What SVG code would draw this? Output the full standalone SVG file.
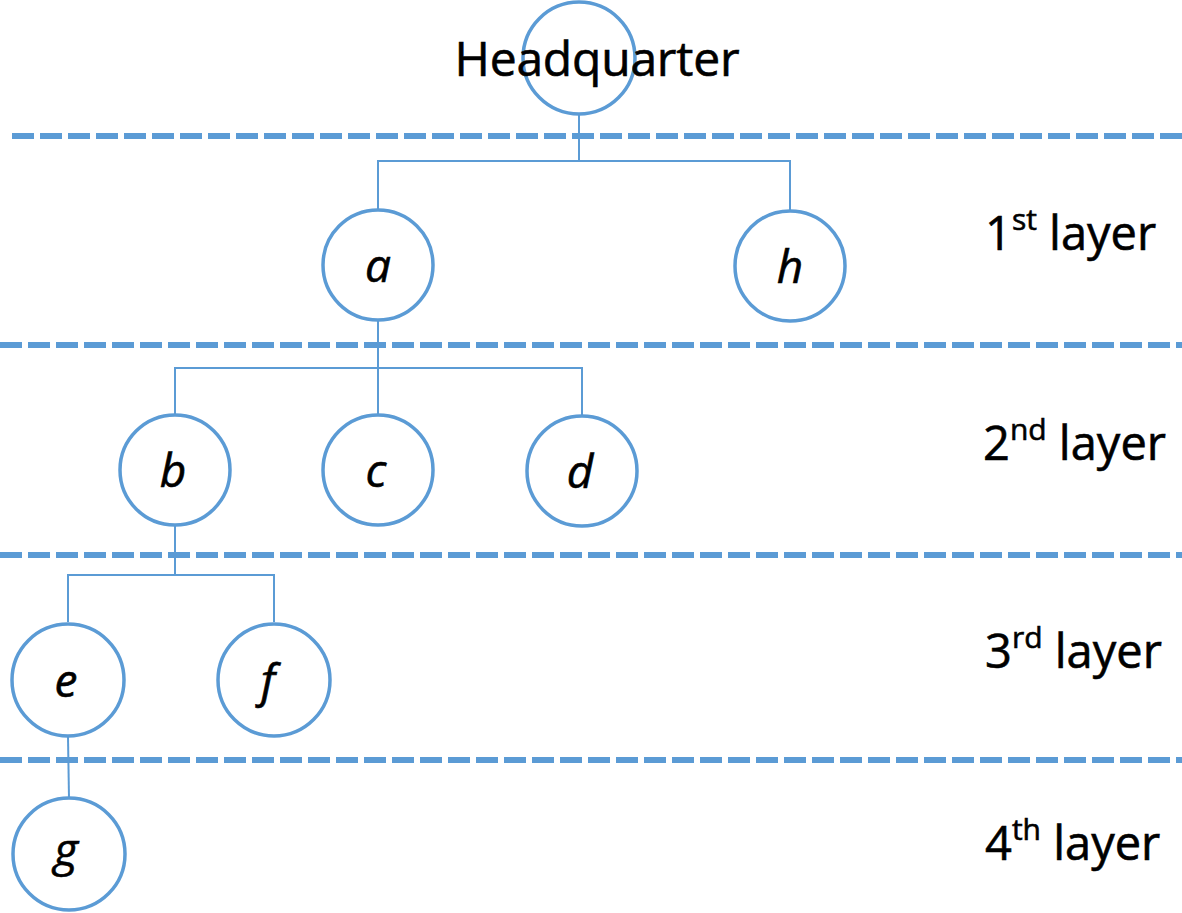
<svg xmlns="http://www.w3.org/2000/svg" width="1182" height="913" viewBox="0 0 1182 913">
<style>
.sep{stroke:#5B9BD5;stroke-width:6;stroke-dasharray:22 6;fill:none}
.conn{stroke:#5B9BD5;stroke-width:2;fill:none}
.node circle{fill:#fff;stroke:#5B9BD5;stroke-width:3.5}
.lbl{font-family:"Open Sans","Liberation Sans",sans-serif;font-style:italic;font-size:46px;fill:#000;text-anchor:middle;stroke:#000;stroke-width:0.6}
.layer{font-family:"Open Sans","Liberation Sans",sans-serif;font-size:47px;fill:#000;stroke:#000;stroke-width:0.6}
.sup{font-size:30px}
</style>
<rect width="1182" height="913" fill="#fff"/>
<g id="separators">
<line class="sep" x1="12" y1="136" x2="1182" y2="136"/>
<line class="sep" x1="0" y1="345" x2="1182" y2="345"/>
<line class="sep" x1="0" y1="555" x2="1182" y2="555"/>
<line class="sep" x1="0" y1="760" x2="1182" y2="760"/>
</g>
<g id="connectors">
<polyline class="conn" points="579,115 579,161"/>
<polyline class="conn" points="378,210 378,161 790,161 790,210"/>
<polyline class="conn" points="378,320 378,415"/>
<polyline class="conn" points="175,415 175,368 582,368 582,415"/>
<polyline class="conn" points="175,525 175,575"/>
<polyline class="conn" points="68,622 68,575 274,575 274,622"/>
<polyline class="conn" points="68,737 69,798"/>
</g>
<g id="node-hq" class="node"><circle cx="579" cy="58" r="56"/><text x="597" y="76" class="layer" style="text-anchor:middle;font-size:48px" textLength="285">Headquarter</text></g>
<g id="node-a" class="node"><circle cx="378" cy="265" r="55"/><text x="378" y="282" class="lbl">a</text></g>
<g id="node-h" class="node"><circle cx="790" cy="266" r="55"/><text x="790" y="283" class="lbl">h</text></g>
<g id="node-b" class="node"><circle cx="175" cy="470" r="55"/><text x="173" y="487" class="lbl">b</text></g>
<g id="node-c" class="node"><circle cx="378" cy="470" r="55"/><text x="376" y="487" class="lbl">c</text></g>
<g id="node-d" class="node"><circle cx="582" cy="471" r="55"/><text x="580" y="488" class="lbl">d</text></g>
<g id="node-e" class="node"><circle cx="68" cy="680" r="56"/><text x="66" y="697" class="lbl">e</text></g>
<g id="node-f" class="node"><circle cx="274" cy="680" r="56"/><text x="268" y="697" class="lbl">f</text></g>
<g id="node-g" class="node"><circle cx="69" cy="854" r="56"/><text x="66" y="866" class="lbl">g</text></g>
<g id="layer-labels">
<text class="layer" x="985" y="250">1<tspan class="sup" dy="-20">st</tspan><tspan dy="20"> layer</tspan></text>
<text class="layer" x="983" y="460">2<tspan class="sup" dy="-20">nd</tspan><tspan dy="20"> layer</tspan></text>
<text class="layer" x="985" y="668">3<tspan class="sup" dy="-20">rd</tspan><tspan dy="20"> layer</tspan></text>
<text class="layer" x="985" y="860">4<tspan class="sup" dy="-20">th</tspan><tspan dy="20"> layer</tspan></text>
</g>
</svg>
